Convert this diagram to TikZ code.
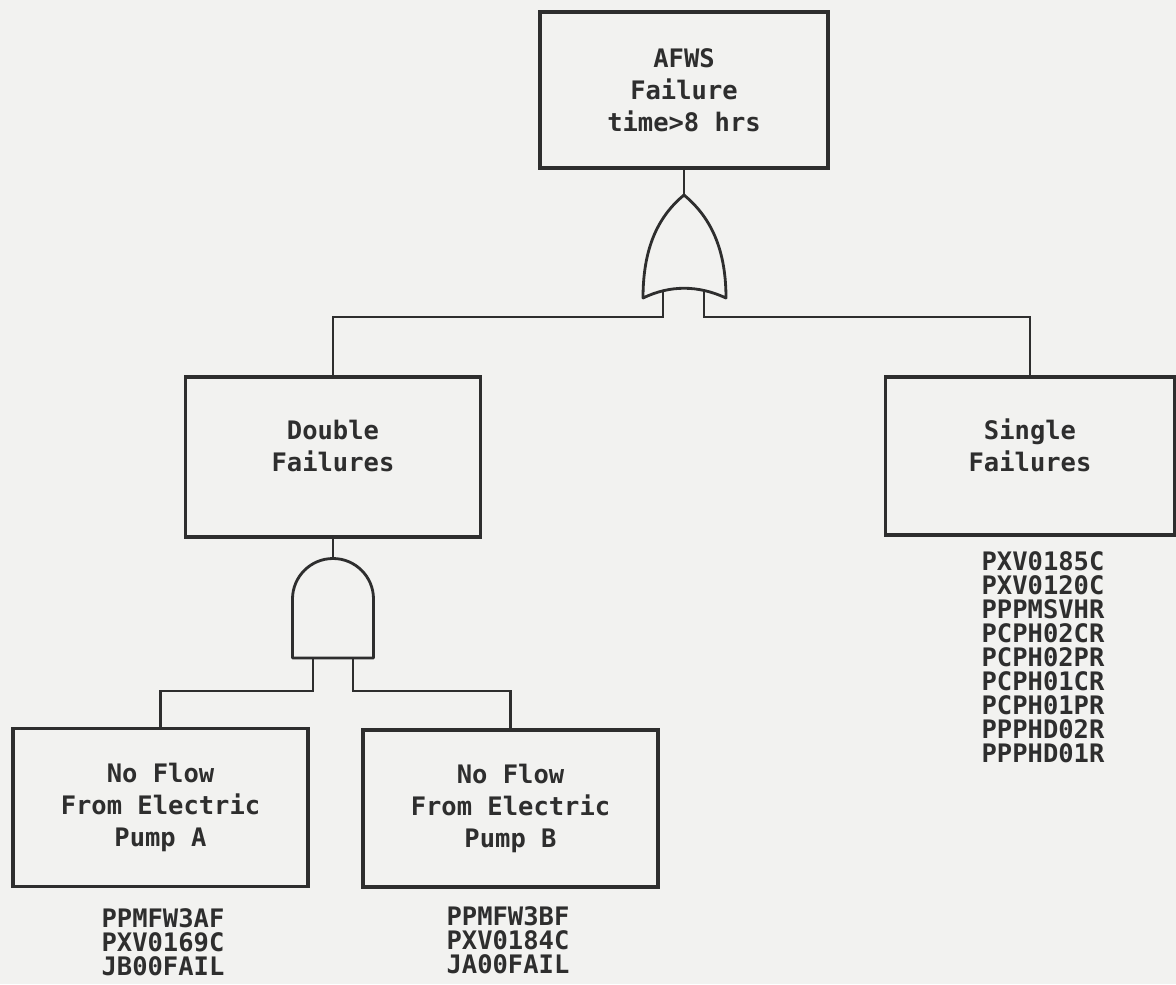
\documentclass[tikz,border=0pt]{standalone}
\usepackage{fontspec}
\setmonofont{DejaVu Sans Mono}
\usepackage{tikz}
\usetikzlibrary{positioning, calc}
\definecolor{paper}{HTML}{F2F2F0}
\definecolor{ink}{HTML}{2E2E2E}
\tikzset{
	boxnode/.style={
			shape=rectangle,
			draw=ink,
			line width=2pt,
			minimum width=59mm,
			minimum height=31.6mm,
			inner sep=0pt,
			align=center,
			text=ink,
			font=\ttfamily\bfseries\fontsize{14.5}{18.2}\selectfont
		},
	listnode/.style={
			inner sep=0pt,
			anchor=north,
			align=center,
			text=ink,
			font=\ttfamily\bfseries\fontsize{14.5}{13.7}\selectfont
		},
	gateline/.style={
			draw=ink,
			line width=1.6pt,
			line join=round
		},
	wire/.style={
			draw=ink,
			line width=1.6pt
		}
}

\begin{document}
\begin{tikzpicture}

  \fill[paper] (0,0) rectangle (23.52,-19.68);
  \useasboundingbox (0,0) rectangle (23.52,-19.68);

  \node[boxnode, minimum width=57.6mm, minimum height=31.2mm] (top) at (13.68,-1.80) {AFWS\\Failure\\time>8 hrs};
  \node[boxnode, minimum height=32mm] (dbl) at (6.66,-9.14) {Double\\Failures\\[-6pt]};
  \node[boxnode, minimum width=57.8mm] (sgl) at (20.60,-9.12) {Single\\Failures\\[-6pt]};
  \node[boxnode] (pa) at (3.21,-16.15) {No Flow\\From Electric\\Pump A};
  \node[boxnode, minimum height=31.4mm] (pb) at (10.21,-16.17) {No Flow\\From Electric\\Pump B};

  \node[listnode] (la) at (3.26,-18.16) {PPMFW3AF\\PXV0169C\\JB00FAIL};
  \node[listnode] (lb) at (10.16,-18.12) {PPMFW3BF\\PXV0184C\\JA00FAIL};
  \node[listnode] (ls) at (20.86,-11.02) {PXV0185C\\PXV0120C\\PPPMSVHR\\PCPH02CR\\PCPH02PR\\PCPH01CR\\PCPH01PR\\PPPHD02R\\PPPHD01R};

  \coordinate (orout) at (13.68,-3.90);
  \coordinate (orl) at (13.26,-5.81);
  \coordinate (orr) at (14.08,-5.81);
  \draw[gateline] (orout) .. controls (13.20,-4.30) and (12.86,-4.90) .. (12.86,-5.96)
    .. controls (13.40,-5.70) and (13.96,-5.70) .. (14.52,-5.96)
    .. controls (14.52,-4.90) and (14.16,-4.30) .. (orout);

  \coordinate (andout) at (6.66,-11.17);
  \coordinate (andl) at (6.26,-13.16);
  \coordinate (andr) at (7.06,-13.16);
  \draw[gateline] (5.85,-13.16) -- (5.85,-11.98) arc[start angle=180, end angle=0, radius=0.81]
    -- (7.47,-13.16) -- cycle;

  \draw[wire] (top.south) -- (orout);
  \draw[wire] (orl) -- ++(0,-0.53) -| (dbl.north);
  \draw[wire] (orr) -- ++(0,-0.53) -| (sgl.north);
  \draw[wire] (dbl.south) -- (andout);
  \draw[wire] (andl) -- ++(0,-0.66) -| (pa.north);
  \draw[wire] (andr) -- ++(0,-0.66) -| (pb.north);

\end{tikzpicture}
\end{document}
